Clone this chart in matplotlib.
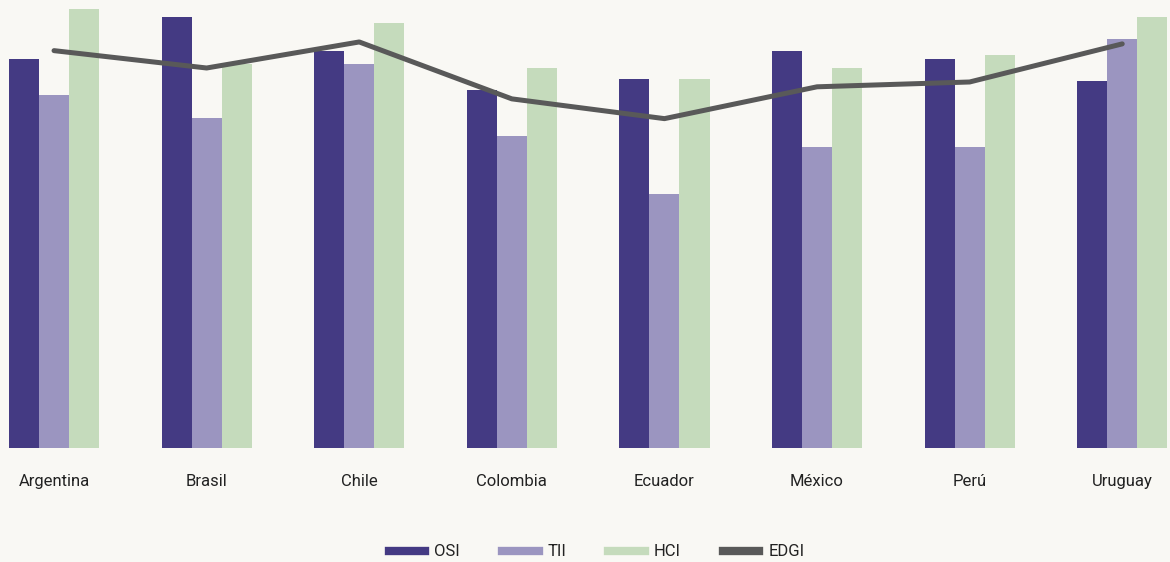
import matplotlib.pyplot as plt
from matplotlib.lines import Line2D
import numpy as np

countries = ["Argentina", "Brasil", "Chile", "Colombia", "Ecuador", "México", "Perú", "Uruguay"]
osi = [0.807, 0.894, 0.824, 0.743, 0.766, 0.824, 0.807, 0.761]
tii = [0.732, 0.685, 0.797, 0.647, 0.527, 0.624, 0.624, 0.849]
hci = [0.911, 0.797, 0.882, 0.788, 0.766, 0.788, 0.815, 0.894]
edgi = [0.824, 0.788, 0.842, 0.724, 0.683, 0.749, 0.759, 0.838]

BG = "#f9f8f4"
C_OSI = "#443a83"
C_TII = "#9b95c0"
C_HCI = "#c5dbbc"
C_EDGI = "#595959"

plt.rcParams['font.family'] = ['Roboto', 'DejaVu Sans']

fig = plt.figure(figsize=(11.7, 5.62), dpi=100, facecolor=BG)
ax = fig.add_axes([0, 0.2028, 1, 0.7972])
ax.set_facecolor(BG)

x = np.arange(len(countries))
w = 0.197
ax.bar(x - w, osi, w, color=C_OSI, label="OSI")
ax.bar(x, tii, w, color=C_TII, label="TII")
ax.bar(x + w, hci, w, color=C_HCI, label="HCI")
ax.plot(x, edgi, color=C_EDGI, lw=3.6, solid_capstyle='round', solid_joinstyle='round', label="EDGI")

ax.set_xlim(-0.354, 7.313)
ax.set_ylim(0, 0.929)
ax.set_xticks(x)
ax.set_xticklabels(countries, fontsize=12, color="#222222")
ax.tick_params(axis='x', length=0, pad=19)
ax.set_yticks([])
for s in ax.spines.values():
    s.set_visible(False)

# legend keys drawn as thick bars, centred under the plot
handles = [Line2D([0], [0], color=c, lw=6) for c in (C_OSI, C_TII, C_HCI, C_EDGI)]
fig.legend(handles, ["OSI", "TII", "HCI", "EDGI"], loc='center', bbox_to_anchor=(0.51, 0.018),
           ncol=4, frameon=False, fontsize=12, handlelength=2.2, columnspacing=2.5,
           handletextpad=0.55, labelcolor="#222222")

fig.savefig("out.png", dpi=100, facecolor=BG)
